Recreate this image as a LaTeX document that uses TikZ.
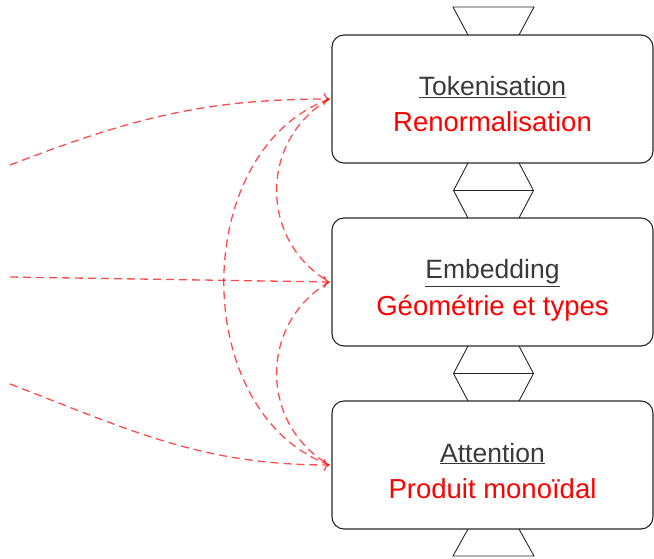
\documentclass[tikz,border=0pt]{standalone}
\usepackage{fontspec}
\setmainfont{Liberation Sans}
\usetikzlibrary{arrows.meta}
\definecolor{boxline}{HTML}{262626}
\definecolor{gtxt}{HTML}{3A3A3A}
\begin{document}
\begin{tikzpicture}[x=1pt,y=1pt,
  box/.style={draw=boxline, line width=1.1pt, rounded corners=12pt, minimum width=321pt, minimum height=128pt, inner sep=0pt},
  trap/.style={draw=boxline, line width=0.9pt, line join=miter},
  toplab/.style={anchor=base, text=gtxt, font=\fontsize{26.5}{30}\selectfont, inner sep=0pt},
  redlab/.style={anchor=base, text=red, font=\fontsize{27.5}{32}\selectfont, inner sep=0pt},
  conn/.style={draw=red, draw opacity=0.7, line width=1.3pt, dash pattern=on 8pt off 5pt},
  tipped/.style={conn, -{To[length=6pt,width=12pt]}}
]
\useasboundingbox (0,0) rectangle (654,558);

% boxes
\node[box] (b1) at (492.5,459) {};
\node[box] (b2) at (492.5,276) {};
\node[box] (b3) at (492.5,93) {};

% labels
\node[toplab] (t1) at (492.5,462) {\underline{Tokenisation}};
\node[redlab] (r1) at (492.5,426) {Renormalisation};
\node[toplab] (t2) at (492.5,279) {\underline{Embedding}};
\node[redlab] (r2) at (492.5,243) {Géométrie et types};
\node[toplab] (t3) at (492.5,96) {\underline{Attention}};
\node[redlab] (r3) at (492.5,60) {Produit monoïdal};

% trapezoids
\draw[trap] (468,523) -- (453,551) -- (534,551) -- (519,523);
\draw[trap] (468,395) -- (453.5,367.5) -- (468,340);
\draw[trap] (519,395) -- (533.5,367.5) -- (519,340);
\draw[trap] (453.5,367.5) -- (533.5,367.5);
\draw[trap] (468,212) -- (453.5,184.5) -- (468,157);
\draw[trap] (519,212) -- (533.5,184.5) -- (519,157);
\draw[trap] (453.5,184.5) -- (533.5,184.5);
\draw[trap] (468,29) -- (453,2) -- (534,2) -- (519,29);

% connector ends
\coordinate (s1) at (10,393);
\coordinate (s2) at (10,281);
\coordinate (s3) at (10,174);
\coordinate (e1) at ([xshift=-2pt]b1.west);
\coordinate (e2) at ([xshift=-2pt]b2.west);
\coordinate (e3) at ([xshift=-2pt]b3.west);

% arcs between boxes
\draw[conn] (e1) to[out=200,in=160,looseness=1.05] (e3);
\draw[conn] (e1) to[out=210,in=150,looseness=1.14] (e2);
\draw[conn] (e2) to[out=210,in=150,looseness=1.14] (e3);

% incoming arrows
\draw[tipped] (s1) to[out=21,in=180] (e1);
\draw[tipped] (s2) -- (e2);
\draw[tipped] (s3) to[out=-21,in=180] (e3);
\end{tikzpicture}
\end{document}
